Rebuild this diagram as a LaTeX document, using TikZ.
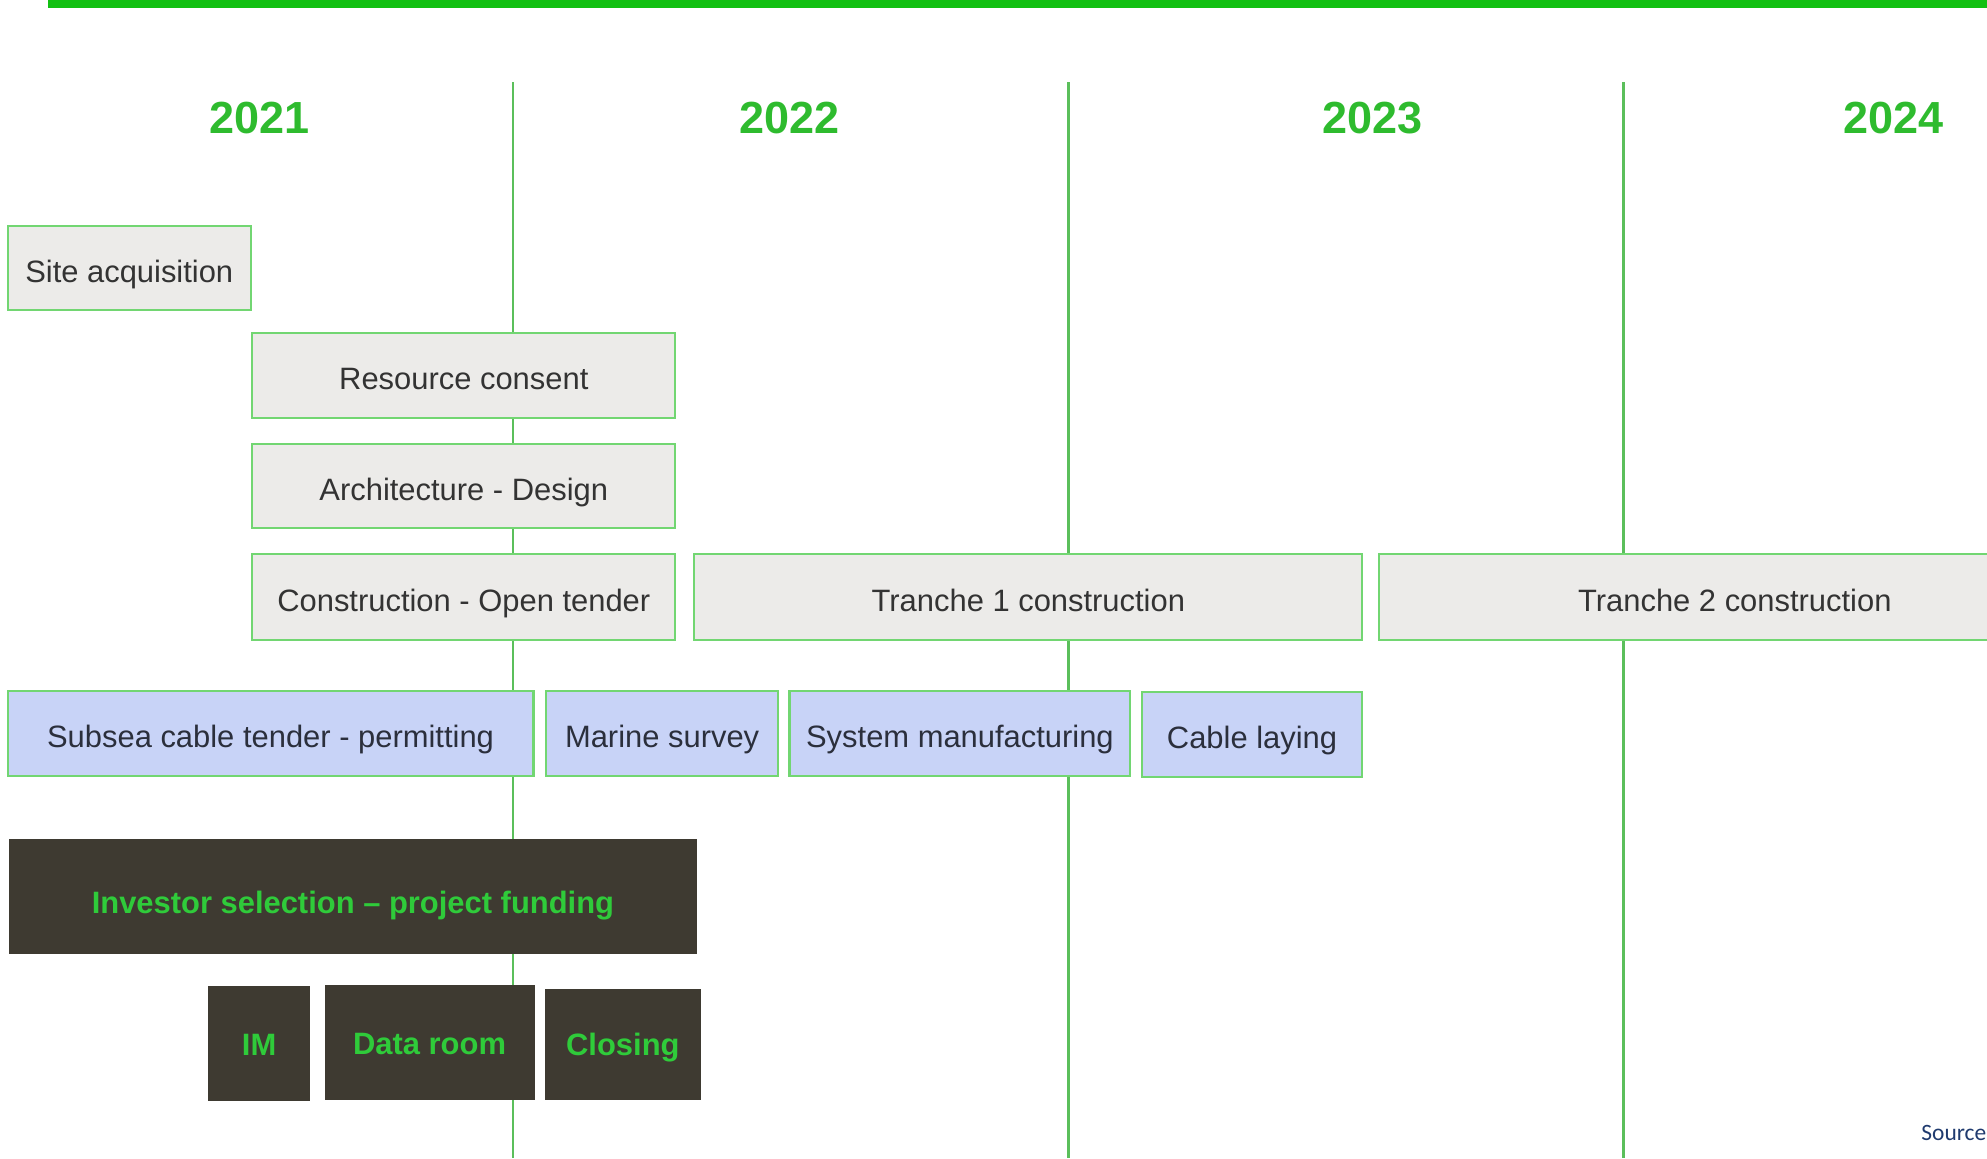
\documentclass[tikz,border=0pt]{standalone}
\usepackage{fontspec}
\setmainfont{Liberation Sans}
\newfontfamily\sourcefont{Carlito}
\usepackage{tikz}

\definecolor{topgreen}{HTML}{12C012}
\definecolor{yeargreen}{HTML}{2EBB2E}
\definecolor{linegreen}{HTML}{5BBF5B}
\definecolor{boxgreen}{HTML}{72D672}
\definecolor{boxgray}{HTML}{ECEBE9}
\definecolor{boxblue}{HTML}{C8D3F7}
\definecolor{boxdark}{HTML}{3E3A31}
\definecolor{textgreen}{HTML}{2FCB3A}
\definecolor{textgray}{HTML}{333333}
\definecolor{textblue}{HTML}{2B2F3C}
\definecolor{sourceblue}{HTML}{1F3A6E}

% [style]{name}{left}{right}{top}{bottom}{text}
\newcommand{\drawtask}[7][]{
    \node[task, #1, minimum width={(#4-#3)*1pt}, minimum height={(#6-#5)*1pt}] (#2) at ({(#3+#4)/2},{(#5+#6)/2}) {#7};
}

\begin{document}
\begin{tikzpicture}[x=1pt, y=-1pt,
    task/.style={draw=boxgreen, line width=1.6pt, inner sep=0pt, fill=boxgray, text=textgray, text height=26pt, text depth=3.5pt, font=\fontsize{24.4}{28}\selectfont},
    bluetask/.style={fill=boxblue, text=textblue},
    darktask/.style={draw=boxdark, fill=boxdark, text=textgreen, text height=22pt, font=\fontsize{24.4}{28}\selectfont\bfseries},
    year/.style={text=yeargreen, font=\fontsize{35.5}{40}\selectfont\bfseries},
    divider/.style={draw=linegreen, line width=2pt}]

   \useasboundingbox (0,0) rectangle (1568,914);

   % Top rule
    \draw[topgreen, line width=7pt] (38,3) -- (1568,3);

   % Year dividers
    \foreach \x in {405, 843, 1281}
      \draw[divider] (\x,65) -- (\x,914);

   % Years
    \foreach \yr/\x in {2021/205, 2022/623, 2023/1083, 2024/1494}
      \node[year] (y\yr) at (\x,93) {\yr};

   % Site and building
    \drawtask{site}{6}{198}{178}{245}{Site acquisition}
    \drawtask{consent}{199}{533}{263}{330}{Resource consent}
    \drawtask{design}{199}{533}{350}{417}{Architecture - Design}
    \drawtask{tender}{199}{533}{437}{505}{Construction - Open tender}
    \drawtask{tranche1}{548}{1075}{437}{505}{Tranche 1 construction}
    \drawtask{tranche2}{1088}{1650}{437}{505}{Tranche 2 construction}

   % Subsea cable
    \drawtask[bluetask]{subsea}{6}{421}{545}{612}{Subsea cable tender - permitting}
    \drawtask[bluetask]{marine}{431}{614}{545}{612}{Marine survey}
    \drawtask[bluetask]{manuf}{623}{892}{545}{612}{System manufacturing}
    \drawtask[bluetask]{laying}{901}{1075}{546}{613}{Cable laying}

   % Funding
    \drawtask[darktask, text height=30pt]{investor}{8}{549}{663}{752}{Investor selection -- project funding}
    \drawtask[darktask]{im}{165}{244}{779}{868}{IM}
    \drawtask[darktask]{dataroom}{257}{421}{778}{867}{Data room}
    \drawtask[darktask]{closing}{431}{552}{781}{867}{Closing}

    \node[anchor=west, inner sep=0pt, text=sourceblue, font=\sourcefont\fontsize{18.5}{20}\selectfont] (source) at (1516,894) {Source};

\end{tikzpicture}
\end{document}
